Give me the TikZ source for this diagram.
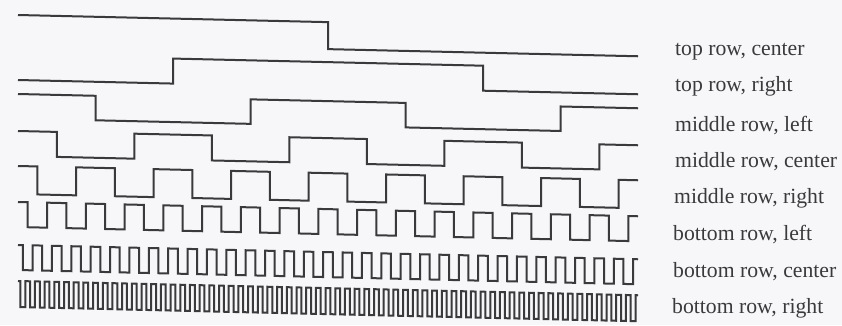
\documentclass[tikz,border=0pt]{standalone}
\usepackage{fontspec}
\setmainfont{Liberation Serif}
\definecolor{scanpaper}{HTML}{F7F7F9}
\definecolor{scanink}{HTML}{3A3A3C}
\tikzset{
  wave/.style={draw=scanink, line width=2pt, line join=miter},
  rowlabel/.style={
    anchor=base west,
    inner sep=0pt,
    text=scanink,
    font=\fontsize{21.7}{26}\selectfont
  }
}
% #1 = number of edges, #2 = level at the left end, #3 = the other level
\newcommand{\sqwave}[3]{%
  \pgfmathtruncatemacro{\lastedge}{#1-1}%
  \draw[wave] (0,#2)
    \foreach \i [evaluate=\i as \tx using (\i+0.5)/#1*620,
                 evaluate=\i as \ty using isodd(\i)?#2:#3] in {0,...,\lastedge}
      { -| (\tx,\ty) }
    -- ++(310/#1,0);%
}

\begin{document}
\begin{tikzpicture}[x=1pt,y=-1pt]

\fill[scanpaper] (0,0) rectangle (842,325);
\useasboundingbox (0,0) rectangle (842,325);

\begin{scope}[shift={(18,0)}, yslant=-0.023]
  \sqwave{1}{15}{42}
  \sqwave{2}{80}{55}
  \sqwave{4}{94}{118.5}
  \sqwave{8}{131}{156}
  \sqwave{16}{166}{194}
  \sqwave{32}{202}{227}
  \sqwave{64}{245}{270}
  \sqwave{128}{281}{307}
\end{scope}

\node[rowlabel] (topc) at (675,55) {top row, center};
\node[rowlabel] (topr) at (675,91) {top row, right};
\node[rowlabel] (midl) at (675,131) {middle row, left};
\node[rowlabel] (midc) at (675,167) {middle row, center};
\node[rowlabel] (midr) at (674,203) {middle row, right};
\node[rowlabel] (botl) at (673,240) {bottom row, left};
\node[rowlabel] (botc) at (673,277) {bottom row, center};
\node[rowlabel] (botr) at (672,313) {bottom row, right};

\end{tikzpicture}
\end{document}
